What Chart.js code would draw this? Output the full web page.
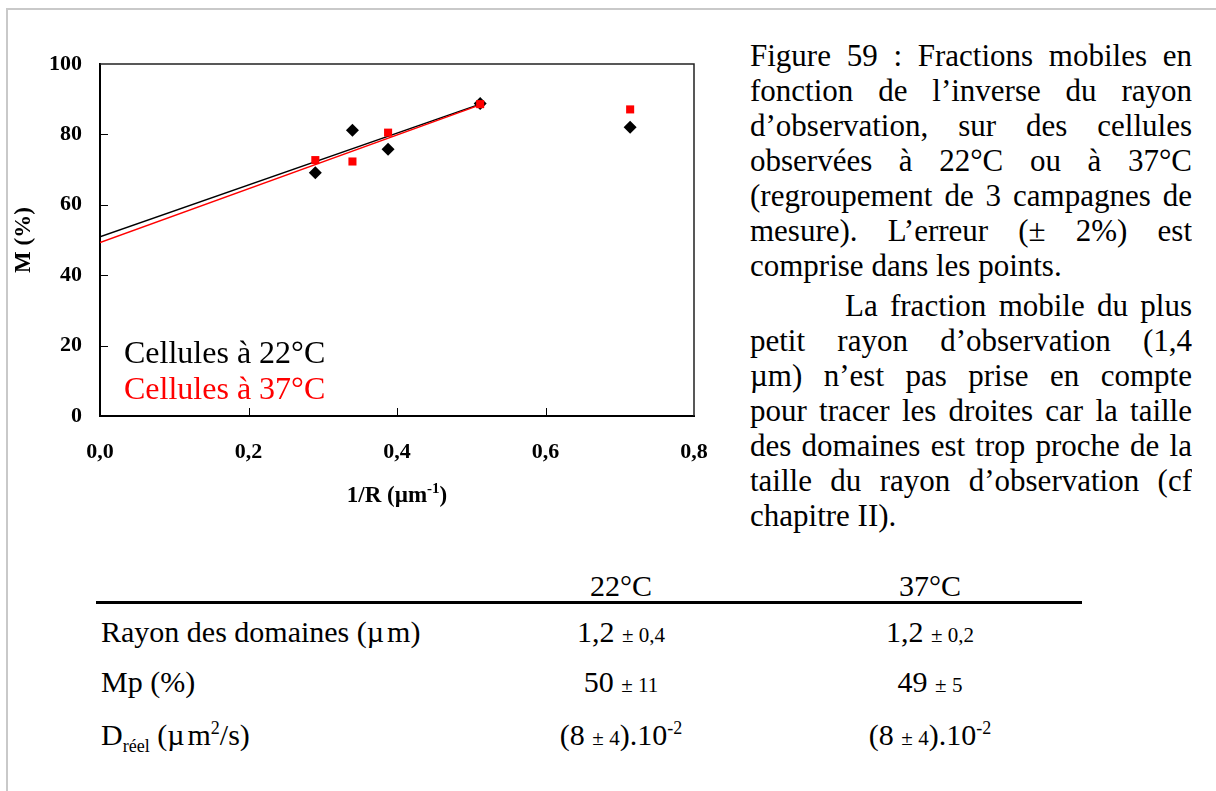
<!DOCTYPE html>
<html>
<head>
<meta charset="utf-8">
<script src="https://cdn.jsdelivr.net/npm/chart.js@4.4.1/dist/chart.umd.min.js"></script>
<style>
  body { margin:0; width:1216px; height:791px; overflow:hidden; background:#fff; position:relative;
         font-family:'Liberation Serif','Times New Roman',serif; color:#000; }
  #frame { position:absolute; left:6px; top:8px; width:1240px; height:800px;
           border-left:2px solid #c9c9c9; border-top:2px solid #c9c9c9; }
  #graph { position:absolute; left:0; top:0; }
  #caption { position:absolute; left:750px; top:38px; width:442px; height:498px; overflow:hidden;
             font-size:31px; line-height:35px; }
  #caption div { white-space:nowrap; text-align:justify; text-align-last:justify; height:35px; }
  #caption div.last { text-align-last:left; }
  #caption div.indent { margin-top:5px; padding-left:95px; }
  .t { position:absolute; line-height:0; white-space:nowrap; font-size:30px; }
  .t.c { width:300px; text-align:center; }
  .t small { font-size:21px; }
  .t sup, .t sub { font-size:18px; line-height:0; }
  #rule { position:absolute; left:96px; top:601px; width:986px; height:3px; background:#000; }
</style>
</head>
<body>
<div id="frame"></div>
<canvas id="graph" width="720" height="540"></canvas>

<div id="caption">
  <div>Figure 59 : Fractions mobiles en</div>
  <div>fonction de l’inverse du rayon</div>
  <div>d’observation, sur des cellules</div>
  <div>observées à 22°C ou à 37°C</div>
  <div>(regroupement de 3 campagnes de</div>
  <div>mesure). L’erreur (± 2%) est</div>
  <div class="last">comprise dans les points.</div>
  <div class="indent">La fraction mobile du plus</div>
  <div>petit rayon d’observation (1,4</div>
  <div>µm) n’est pas prise en compte</div>
  <div>pour tracer les droites car la taille</div>
  <div>des domaines est trop proche de la</div>
  <div>taille du rayon d’observation (cf</div>
  <div class="last">chapitre II).</div>
</div>
<div id="rule"></div>
<div id="table"></div>

<script>
// 1/R (µm-1) and M (%)
const inv22 = [0.29, 0.34, 0.388, 0.512, 0.714]
const m22 = [69.1, 81.2, 75.8, 88.8, 82.0]
const inv37 = [0.29, 0.34, 0.388, 0.512, 0.714]
const m37 = [72.7, 72.3, 80.5, 88.6, 87.1]

// fitted lines (the 1,4 µm point left out)
const fitX = [0, 0.512]
const fit22 = [50.9, 88.6]
const fit37 = [49.3, 88.4]

const xTicks = [0, 0.2, 0.4, 0.6, 0.8]
const xTickLabels = ['0,0', '0,2', '0,4', '0,6', '0,8']
const yTicks = [0, 20, 40, 60, 80, 100]

const legendLabels = ['Cellules à 22°C', 'Cellules à 37°C']

// table under the figure
const colHeads = ['22°C', '37°C']
const rowLabels = ['Rayon des domaines (<span style="margin-right:3px">µ</span>m)', 'Mp (%)',
                   'D<sub>réel</sub> (<span style="margin-right:3px">µ</span>m<sup>2</sup>/s)']
const val22 = ['1,2', '50', '8']
const err22 = ['0,4', '11', '4']
const val37 = ['1,2', '49', '8']
const err37 = ['0,2', '5', '4']

const pts = (xs, ys) => xs.map((v, i) => ({x: v, y: ys[i]}))

const serif = '"Liberation Serif", "Times New Roman", serif'
const tickFont = {family: serif, size: 22, weight: 'bold'}

const frame = {
    id: 'frame',
    afterDraw(chart) {
        const {ctx, chartArea: a, scales: {x, y}} = chart
        ctx.save()
        // small ticks pointing into the plot
        ctx.strokeStyle = '#000'
        ctx.lineWidth = 1
        ctx.beginPath()
        yTicks.slice(1, -1).forEach(v => {
            let py = Math.round(y.getPixelForValue(v)) + 0.5
            ctx.moveTo(a.left, py); ctx.lineTo(a.left + 8, py)
        })
        xTicks.slice(1, -1).forEach(v => {
            let px = Math.round(x.getPixelForValue(v)) + 0.5
            ctx.moveTo(px, a.bottom); ctx.lineTo(px, a.bottom - 8)
        })
        ctx.stroke()
        // top and right sides of the box
        ctx.strokeStyle = '#222'
        ctx.lineWidth = 1.5
        ctx.beginPath()
        ctx.moveTo(a.left, a.top); ctx.lineTo(a.right, a.top); ctx.lineTo(a.right, a.bottom)
        ctx.stroke()
        // legend, text only
        ctx.font = '32px ' + serif
        ctx.textAlign = 'left'
        ctx.textBaseline = 'alphabetic'
        legendLabels.forEach((lab, k) => {
            let d = chart.data.datasets.find(ds => ds.label === lab)
            ctx.fillStyle = d.backgroundColor
            ctx.fillText(lab, a.left + 24, a.top + 299 + k * 36)
        })
        // x title with superscript
        ctx.fillStyle = '#000'
        ctx.font = 'bold 23px ' + serif
        let t1 = '1/R (µm', sup = '-1', t2 = ')'
        let w1 = ctx.measureText(t1).width, w3 = ctx.measureText(t2).width
        ctx.font = 'bold 15px ' + serif
        let w2 = ctx.measureText(sup).width
        let cx = (a.left + a.right) / 2, by = 502
        let sx = cx - (w1 + w2 + w3) / 2
        ctx.font = 'bold 23px ' + serif
        ctx.fillText(t1, sx, by)
        ctx.fillText(t2, sx + w1 + w2, by)
        ctx.font = 'bold 15px ' + serif
        ctx.fillText(sup, sx + w1, by - 9)
        ctx.restore()
    }
}

new Chart(document.getElementById('graph'), {
    type: 'scatter',
    data: {
        datasets: [
            {
                label: legendLabels[1],
                data: pts(inv37, m37),
                pointStyle: 'rect',
                pointRadius: 5.7,
                backgroundColor: '#ff0000',
                borderColor: '#ff0000',
                borderWidth: 0,
                order: 0
            },
            {
                label: legendLabels[0],
                data: pts(inv22, m22),
                pointStyle: 'rectRot',
                pointRadius: 6.5,
                backgroundColor: '#000',
                borderColor: '#000',
                borderWidth: 0,
                order: 1
            },
            {
                label: 'fit 37',
                data: pts(fitX, fit37),
                showLine: true,
                pointRadius: 0,
                borderColor: '#ff0000',
                borderWidth: 1.5,
                order: 2
            },
            {
                label: 'fit 22',
                data: pts(fitX, fit22),
                showLine: true,
                pointRadius: 0,
                borderColor: '#000',
                borderWidth: 1.5,
                order: 3
            }
        ]
    },
    options: {
        responsive: false,
        animation: false,
        devicePixelRatio: 1,
        layout: {padding: {left: 0, top: 64, right: 26, bottom: 0}},
        plugins: {legend: {display: false}, tooltip: {enabled: false}},
        scales: {
            x: {
                type: 'linear', min: 0, max: 0.8,
                afterBuildTicks: s => { s.ticks = xTicks.map(v => ({value: v})) },
                afterFit: s => { s.height = 124; s.paddingLeft = 0; s.paddingRight = 0 },
                ticks: {font: tickFont, color: '#000', padding: 23, maxRotation: 0,
                        callback: (v, i) => xTickLabels[i]},
                grid: {display: false, drawTicks: false},
                border: {display: true, color: '#000', width: 2}
            },
            y: {
                type: 'linear', min: 0, max: 100,
                afterBuildTicks: s => { s.ticks = yTicks.map(v => ({value: v})) },
                afterFit: s => { s.width = 100; s.paddingTop = 0; s.paddingBottom = 0 },
                ticks: {font: tickFont, color: '#000', padding: 18},
                grid: {display: false, drawTicks: false},
                border: {display: true, color: '#000', width: 2},
                title: {display: true, text: 'M (%)', color: '#000',
                        font: {family: serif, size: 23, weight: 'bold'}, padding: {top: 10, bottom: 0}}
            }
        }
    },
    plugins: [frame]
})

// table
const tbl = document.getElementById('table')
const colX = [621, 930]
const headY = 596, rowY = [642, 692, 738]
function put(html, x, base, centred) {
    let d = document.createElement('div')
    d.className = 't' + (centred ? ' c' : '')
    d.style.left = (centred ? x - 150 : x) + 'px'
    d.style.top = (base - 0.3375 * 30) + 'px'
    d.innerHTML = html
    tbl.appendChild(d)
}
colHeads.forEach((h, j) => put(h, colX[j], headY, true))
rowLabels.forEach((r, i) => {
    put(r, 101, rowY[i], false)
    ;[[val22, err22], [val37, err37]].forEach(([v, e], j) => {
        let s = i < 2 ? v[i] + ' <small>± ' + e[i] + '</small>'
                      : '(' + v[i] + ' <small>± ' + e[i] + '</small>).10<sup>-2</sup>'
        put(s, colX[j], rowY[i], true)
    })
})
</script>
</body>
</html>
